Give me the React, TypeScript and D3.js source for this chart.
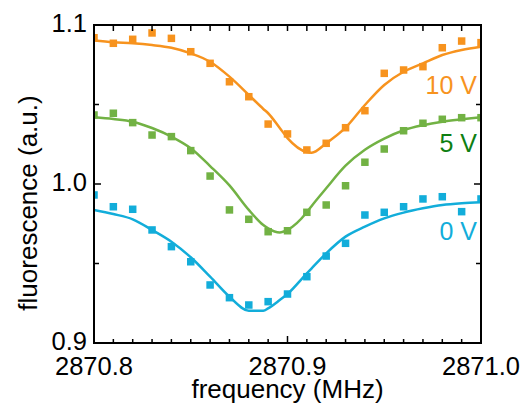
import React from "react";
import * as d3 from "d3";

const freq = [2870.8, 2870.81, 2870.82, 2870.83, 2870.84, 2870.85, 2870.86, 2870.87, 2870.88, 2870.89, 2870.9,
  2870.91, 2870.92, 2870.93, 2870.94, 2870.95, 2870.96, 2870.97, 2870.98, 2870.99, 2871.0];

const data10V = [1.092, 1.0885, 1.091, 1.095, 1.0916, 1.0832, 1.0759, 1.0643, 1.0549, 1.0377, 1.0315,
  1.0214, 1.0256, 1.0354, 1.0461, 1.0696, 1.0717, 1.0738, 1.0857, 1.0899, 1.0889];
const data5V = [1.0434, 1.0445, 1.0386, 1.0308, 1.0298, 1.021, 1.005, 0.9837, 0.9778, 0.97, 0.9706,
  0.9822, 0.9868, 0.9989, 1.0137, 1.022, 1.0335, 1.0382, 1.0407, 1.0417, 1.0417];
const data0V = [0.9931, 0.9857, 0.9841, 0.9711, 0.9606, 0.9511, 0.9365, 0.9285, 0.9239, 0.926, 0.9308,
  0.9417, 0.9547, 0.9627, 0.9805, 0.9822, 0.9857, 0.9906, 0.992, 0.9826, 0.9906];

const fitFreq = [2870.8, 2870.81, 2870.82, 2870.83, 2870.84, 2870.85, 2870.86, 2870.87, 2870.88, 2870.8875,
  2870.89, 2870.896, 2870.9, 2870.91, 2870.9125, 2870.92, 2870.93, 2870.94, 2870.95, 2870.96, 2870.97,
  2870.98, 2870.99, 2871.0];
const fit10V = [1.0902, 1.0891, 1.0885, 1.0874, 1.0857, 1.0822, 1.0769, 1.0675, 1.056, 1.0472,
  1.0445, 1.0352, 1.0289, 1.0201, 1.0197, 1.0256, 1.0354, 1.0497, 1.0623, 1.0706, 1.0759,
  1.0811, 1.0843, 1.0864];
const fit5V = [1.042, 1.0409, 1.0392, 1.0352, 1.0298, 1.0225, 1.0113, 0.9991, 0.9837, 0.9742,
  0.9721, 0.9695, 0.9711, 0.9822, 0.9862, 0.9973, 1.0115, 1.0215, 1.0285, 1.0338, 1.037,
  1.0392, 1.0407, 1.042];
const fit0V = [0.9837, 0.9811, 0.9778, 0.9711, 0.9637, 0.9539, 0.9417, 0.9291, 0.9203, 0.9203,
  0.9218, 0.927, 0.9308, 0.9438, 0.947, 0.9564, 0.9669, 0.9732, 0.9784, 0.982, 0.9847,
  0.9868, 0.9879, 0.9885];

const seriesLabels = ["10 V", "5 V", "0 V"];
const xTickLabels = ["2870.8", "2870.9", "2871.0"];
const xMajor = [2870.8, 2870.9, 2871.0];
const yTickLabels = ["0.9", "1.0", "1.1"];
const yMajor = [0.9, 1.0, 1.1];

const W = 524, H = 405;
const L = 94, R = 481, T = 25, B = 343;
const FONT = "'Liberation Sans', Arial, Helvetica, sans-serif";

const series = [
  { label: seriesLabels[0], pts: data10V, fit: fit10V, color: "#F7931E", text: "#F7931E", lx: 477, ly: 94 },
  { label: seriesLabels[1], pts: data5V, fit: fit5V, color: "#72B244", text: "#0E7F12", lx: 477, ly: 152 },
  { label: seriesLabels[2], pts: data0V, fit: fit0V, color: "#12ADDA", text: "#12ADDA", lx: 477, ly: 240 },
];

export default function App() {
  const x = d3.scaleLinear().domain([2870.8, 2871.0]).range([L, R]);
  const y = d3.scaleLinear().domain([0.9, 1.1]).range([B, T]);
  const xMinor = x.ticks(20);
  const yMinor = y.ticks(4);
  const line = d3.line<number>()
    .x((_, i) => x(fitFreq[i]))
    .y((d) => y(d))
    .curve(d3.curveMonotoneX);
  const isMajorX = (v: number) => xMajor.some((m) => Math.abs(m - v) < 1e-6);
  const isMajorY = (v: number) => yMajor.some((m) => Math.abs(m - v) < 1e-6);
  const sq = 7.5;

  return (
    <svg width={W} height={H} style={{ position: "absolute", left: 0, top: 0 }} fontFamily={FONT}>
      <defs>
        <clipPath id="plotclip">
          <rect x={L} y={T} width={R - L} height={B - T} />
        </clipPath>
      </defs>
      <rect x={0} y={0} width={W} height={H} fill="#fff" />
      <g clipPath="url(#plotclip)">
        {series.map((s) => (
          <g key={s.label}>
            {s.pts.map((v, i) => (
              <rect key={i} x={x(freq[i]) - sq / 2} y={y(v) - sq / 2} width={sq} height={sq} fill={s.color} />
            ))}
            <path d={line(s.fit) || ""} fill="none" stroke={s.color} strokeWidth={2.5} />
          </g>
        ))}
      </g>
      {series.map((s) => (
        <text key={s.label} x={s.lx} y={s.ly} fontSize={25} fill={s.text} textAnchor="end">{s.label}</text>
      ))}
      <g stroke="#000" strokeWidth={1.5}>
        {xMinor.map((v, i) => {
          const len = isMajorX(v) ? 7 : 4;
          return (
            <g key={"xt" + i}>
              <line x1={x(v)} x2={x(v)} y1={B} y2={B - len} />
              <line x1={x(v)} x2={x(v)} y1={T} y2={T + 6} />
            </g>
          );
        })}
        {yMinor.map((v, i) => {
          const len = isMajorY(v) ? 7 : 5;
          return (
            <g key={"yt" + i}>
              <line x1={L} x2={L + len} y1={y(v)} y2={y(v)} />
              <line x1={R} x2={R - len} y1={y(v)} y2={y(v)} />
            </g>
          );
        })}
      </g>
      <rect x={L} y={T} width={R - L} height={B - T} fill="none" stroke="#000" strokeWidth={2} />
      {xMajor.map((v, i) => (
        <text key={"xl" + i} x={x(v)} y={375} fontSize={25.5} textAnchor="middle" fill="#000">{xTickLabels[i]}</text>
      ))}
      {yMajor.map((v, i) => (
        <text key={"yl" + i} x={L - 7} y={y(v) + 7} fontSize={25.5} textAnchor="end" fill="#000">{yTickLabels[i]}</text>
      ))}
      <text x={(L + R) / 2} y={398} fontSize={26} textAnchor="middle" fill="#000">frequency (MHz)</text>
      <text transform={`translate(37,203) rotate(-90)`} fontSize={26} textAnchor="middle" fill="#000">fluorescence (a.u.)</text>
    </svg>
  );
}
